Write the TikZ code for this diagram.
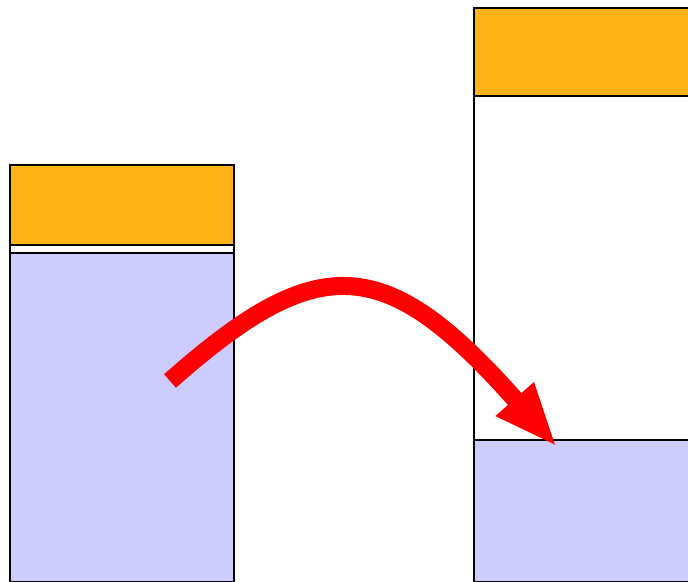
\documentclass[tikz,border=0pt]{standalone}
\usepackage{tikz}
\usetikzlibrary{arrows.meta}
\definecolor{lidorange}{RGB}{255,179,23}
\definecolor{fluidblue}{RGB}{204,204,255}

\begin{document}
\begin{tikzpicture}[x=1pt,y=-1pt,
        wall/.style={draw=black, line width=2pt},
        move/.style={draw=red, line width=18pt,
            -{Triangle[length=64pt,width=46pt]}}]
            \clip (0,0) rectangle (688,581);
            % left vessel
            \begin{scope}[shift={(10,0)}]
                \draw[wall, fill=lidorange] (0,165) rectangle (224,245);
                \draw[wall, fill=fluidblue] (0,253) rectangle (224,582);
                \draw[wall] (0,245) -- (0,253) (224,245) -- (224,253);
                \coordinate (src) at (160,381);
            \end{scope}
            % right vessel
            \begin{scope}[shift={(474,0)}]
                \draw[wall] (0,8) rectangle (230,582);
                \draw[wall, fill=lidorange] (0,8) rectangle (230,96);
                \draw[wall, fill=fluidblue] (0,440) rectangle (230,582);
                \coordinate (dst) at (83,447);
            \end{scope}
            \draw[move] (src) .. controls (318,250) and (385,252) .. (dst);
        \end{tikzpicture}
\end{document}
